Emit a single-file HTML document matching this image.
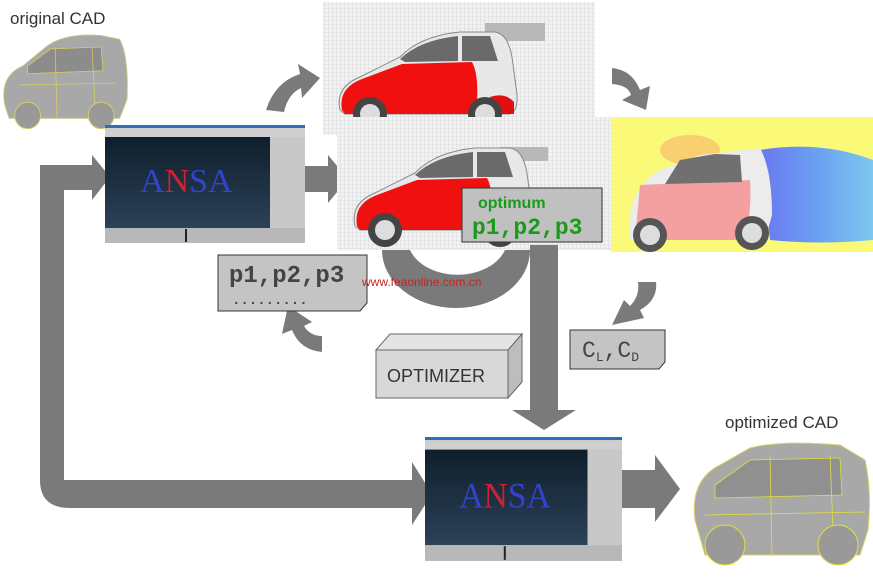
<!DOCTYPE html>
<html><head><meta charset="utf-8"><style>
body{margin:0;background:#fff;width:873px;height:572px;overflow:hidden;font-family:"Liberation Sans",sans-serif}
</style></head><body>
<svg width="873" height="572" viewBox="0 0 873 572" xmlns="http://www.w3.org/2000/svg">
<defs>
<pattern id="grid" width="4" height="4" patternUnits="userSpaceOnUse"><rect width="4" height="4" fill="#f2f2f2"/><path d="M4 0H0V4" fill="none" stroke="#c8c8c8" stroke-width="0.6"/></pattern>
<linearGradient id="scr" x1="0" y1="0" x2="0" y2="1"><stop offset="0" stop-color="#0f1e2c"/><stop offset="1" stop-color="#2c4258"/></linearGradient>
<linearGradient id="cfd" x1="0" y1="0" x2="1" y2="0"><stop offset="0" stop-color="#6a78f0"/><stop offset="0.5" stop-color="#6aa0f0"/><stop offset="1" stop-color="#7cc8f0"/></linearGradient>
<g id="redcar">
<path d="M10 88 Q5 65 30 55 L70 35 Q90 14 130 10 L165 10 Q178 12 182 35 L186 65 Q190 88 180 92 L15 92 Z" fill="#e8e8e8" stroke="#888"/>
<path d="M12 88 Q8 66 32 57 L72 42 L142 40 Q150 55 146 92 L15 92 Z" fill="#f01010"/>
<path d="M70 37 Q90 18 128 14 L128 39 L75 40 Z" fill="#6a6a6a"/>
<path d="M132 14 L160 14 L168 39 L132 39 Z" fill="#6a6a6a"/>
<path d="M160 75 Q175 70 184 80 L184 92 L160 92Z" fill="#e01010"/>
<circle cx="40" cy="92" r="17" fill="#444"/><circle cx="40" cy="92" r="10" fill="#ddd"/>
<circle cx="155" cy="92" r="17" fill="#444"/><circle cx="155" cy="92" r="10" fill="#ddd"/>
</g>
<g id="cad">
<path d="M5 80 Q0 50 25 40 L50 20 Q70 5 110 8 L130 12 Q140 30 138 75 L130 95 L10 95 Z" fill="#a8a8a8" stroke="#c8c080" stroke-width="1"/>
<path d="M30 40 L55 22 L110 20 L112 45 L30 48 Z" fill="#8c8c8c" stroke="#d8d060" stroke-width="0.8"/>
<path d="M20 60 L125 58 M60 20 L62 95 M100 20 L104 95" stroke="#d8d060" stroke-width="0.8" fill="none"/>
<circle cx="30" cy="92" r="14" fill="#999" stroke="#d8d060"/><circle cx="110" cy="92" r="14" fill="#999" stroke="#d8d060"/>
</g>
<g id="ansa">
<rect x="0" y="0" width="200" height="118" fill="#d0d0d0"/>
<rect x="0" y="0" width="200" height="3" fill="#2a6fb8"/>
<rect x="0" y="3" width="200" height="9" fill="#cfcfcf"/>
<rect x="0" y="12" width="165" height="91" fill="url(#scr)"/>
<rect x="165" y="12" width="35" height="91" fill="#c8c8c8"/>
<rect x="0" y="103" width="200" height="15" fill="#b8b8b8"/>
<rect x="80" y="104" width="2" height="13" fill="#222"/>
<text x="35" y="67" font-family="Liberation Serif,serif" font-size="34" fill="#3344cc">A<tspan fill="#cc2233">N</tspan>SA</text>
</g>
</defs>

<text x="10" y="24" font-size="17" fill="#333">original  CAD</text>
<use href="#cad" transform="translate(0,28) scale(0.92,0.95)"/>

<path d="M40 510 L40 165 L95 165 L95 190 L64 190 L64 480 L418 480 L418 508 L70 508 Q40 508 40 480Z" fill="#7a7a7a"/>
<path d="M92 155 L110 177 L92 200Z" fill="#7a7a7a"/>
<path d="M412 462 L432 494 L412 525Z" fill="#7a7a7a"/>

<use href="#ansa" transform="translate(105,125)"/>

<rect x="305" y="166" width="26" height="26" fill="#7a7a7a"/>
<path d="M328 155 L348 179 L328 203Z" fill="#7a7a7a"/>

<path d="M266 110 Q275 82 300 74 L298 64 L320 78 L302 98 L301 88 Q288 94 284 112Z" fill="#7a7a7a"/>
<path d="M612 68 Q632 70 640 90 L650 86 L646 110 L622 100 L631 95 Q628 85 612 84Z" fill="#7a7a7a"/>
<path d="M656 282 Q658 300 640 310 L644 318 L612 325 L624 300 L630 306 Q640 296 638 282Z" fill="#7a7a7a"/>
<path d="M322 352 Q300 350 292 330 L282 334 L288 306 L312 322 L304 326 Q310 336 322 336Z" fill="#7a7a7a"/>

<rect x="323" y="2" width="272" height="133" fill="url(#grid)"/>
<rect x="485" y="23" width="60" height="18" fill="#b8b8b8"/>
<use href="#redcar" transform="translate(330,22)"/>

<rect x="611" y="117" width="262" height="135" fill="#fafa78"/>
<ellipse cx="690" cy="150" rx="30" ry="15" fill="#f8d070"/>
<path d="M760 150 Q820 140 873 160 L873 240 Q820 245 770 240 Z" fill="url(#cfd)"/>
<path d="M700 155 L760 148 Q772 170 772 215 L765 240 L630 240 Q625 190 660 170 Z" fill="#ececec"/>
<path d="M640 185 L750 180 Q752 210 745 240 L635 240 Z" fill="#f4a0a0"/>
<path d="M680 160 L715 154 L740 155 L742 182 L665 184Z" fill="#707070"/>
<circle cx="650" cy="235" r="17" fill="#555"/><circle cx="650" cy="235" r="10" fill="#ddd"/>
<circle cx="752" cy="233" r="17" fill="#555"/><circle cx="752" cy="233" r="10" fill="#ddd"/>

<rect x="337" y="117" width="274" height="133" fill="url(#grid)"/>
<rect x="500" y="147" width="48" height="14" fill="#b8b8b8"/>
<use href="#redcar" transform="translate(345,138)"/>

<rect x="462" y="188" width="140" height="54" fill="#c0c0c0" stroke="#333"/>
<text x="478" y="208" font-size="16" font-weight="bold" fill="#1a9a1a">optimum</text>
<text x="472" y="234" font-family="Liberation Mono,monospace" font-size="23" font-weight="bold" fill="#1a9a1a">p1,p2,p3</text>

<path d="M382 250 A74 58 0 0 0 530 250 L505 250 A50 36 0 0 1 410 250Z" fill="#7a7a7a"/>
<rect x="530" y="245" width="28" height="168" fill="#7a7a7a"/>
<path d="M512 410 L576 410 L544 430Z" fill="#7a7a7a"/>

<path d="M218 255 L367 255 L367 303 L360 311 L218 311Z" fill="#c4c4c4" stroke="#333"/>
<text x="229" y="282" font-family="Liberation Mono,monospace" font-size="24" font-weight="bold" fill="#444">p1,p2,p3</text>
<text x="232" y="304" font-family="Liberation Mono,monospace" font-size="14" font-weight="bold" fill="#444">.........</text>
<text x="362" y="286" font-size="12" fill="#cc2222">www.feaonline.com.cn</text>

<path d="M570 330 L665 330 L665 362 L659 369 L570 369Z" fill="#c4c4c4" stroke="#333"/>
<text x="582" y="357" font-family="Liberation Mono,monospace" font-size="23" fill="#444">C<tspan font-size="13" dy="4">L</tspan><tspan dy="-4">,C</tspan><tspan font-size="13" dy="4">D</tspan></text>

<path d="M376 350 L390 334 L522 334 L508 350Z" fill="#e4e4e4" stroke="#666"/>
<path d="M508 350 L522 334 L522 382 L508 398Z" fill="#bdbdbd" stroke="#666"/>
<rect x="376" y="350" width="132" height="48" fill="#d8d8d8" stroke="#666"/>
<text x="387" y="382" font-size="18" fill="#333">OPTIMIZER</text>

<use href="#ansa" transform="translate(425,437) scale(0.985,1.05)"/>

<rect x="622" y="470" width="35" height="38" fill="#7a7a7a"/>
<path d="M655 455 L680 489 L655 522Z" fill="#7a7a7a"/>

<text x="725" y="428" font-size="17" fill="#333">optimized  CAD</text>
<g transform="translate(690,440)">
<path d="M5 80 Q0 40 30 25 L60 8 Q90 0 150 5 L175 20 Q182 50 178 90 L170 115 L15 115 Z" fill="#a8a8a8" stroke="#d8d060"/>
<path d="M25 45 L60 20 L150 18 L152 55 L25 58Z" fill="#909090" stroke="#e0e040" stroke-width="0.8"/>
<path d="M15 75 L175 72 M80 15 L82 115 M140 15 L144 115" stroke="#e0e040" fill="none" stroke-width="0.8"/>
<circle cx="35" cy="105" r="20" fill="#999" stroke="#e0e040"/><circle cx="148" cy="105" r="20" fill="#999" stroke="#e0e040"/>
</g>
</svg>
</body></html>
